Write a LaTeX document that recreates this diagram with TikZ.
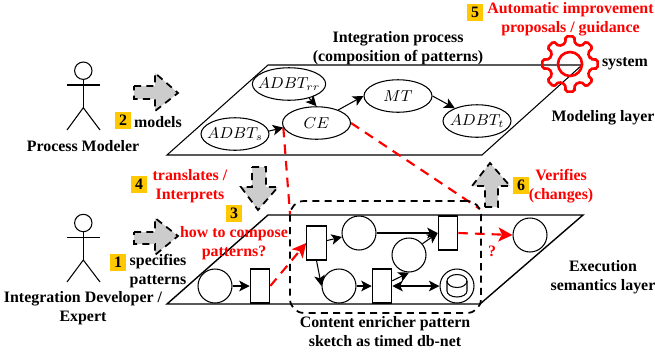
\documentclass[tikz,border=0pt]{standalone}
\usepackage{fontspec}
\setmainfont{Liberation Serif}
\usetikzlibrary{arrows.meta}
\usetikzlibrary{shapes.geometric}
\pgfdeclarelayer{edgelayer}
\pgfdeclarelayer{nodelayer}
\pgfsetlayers{edgelayer,nodelayer,main}
\definecolor{badgeyellow}{RGB}{255,200,0}
\definecolor{arrowgrey}{RGB}{204,204,204}
\tikzstyle{none} = []
\tikzstyle{black text}=[inner sep=0, align=center, font=\fontsize{9.05}{10.8}\selectfont\bfseries]
\tikzstyle{red text}=[style=black text, text=red]
\tikzstyle{badge}=[style=black text, fill=badgeyellow, minimum width=0.32cm, minimum height=0.34cm]
\tikzstyle{adt}=[draw, ellipse, inner sep=-3pt, minimum width=1.36cm, minimum height=0.65cm, line width=0.6pt, font=\fontsize{9}{10}\selectfont]
\tikzstyle{place}=[draw, circle, inner sep=0, minimum size=0.68cm, line width=0.6pt]
\tikzstyle{transition}=[draw, rectangle, inner sep=0, minimum width=0.39cm, minimum height=0.68cm, line width=0.6pt]
\tikzstyle{sketch box}=[draw, rectangle, rounded corners=8pt, dashed, dash pattern=on 4pt off 3pt, line width=1pt, minimum width=3.82cm, minimum height=2.24cm]
\tikzstyle{plain edge}=[line width=0.6pt]
\tikzstyle{flow edge}=[line width=0.6pt, -{Stealth[length=6pt,width=6pt,inset=1.5pt]}]
\tikzstyle{both edge}=[line width=0.6pt, {Stealth[length=6pt,width=6pt,inset=1.5pt]}-{Stealth[length=6pt,width=6pt,inset=1.5pt]}]
\tikzstyle{red edge}=[red, line width=1.2pt, dash pattern=on 5.5pt off 4pt]
\tikzstyle{red flow}=[style=red edge, -{Stealth[length=8pt,width=8pt,inset=2pt]}]
\tikzstyle{block arrow}=[draw, fill=arrowgrey, line width=1pt, dash pattern=on 4pt off 3pt]
\tikzstyle{gear edge}=[red, line width=1.5pt, rounded corners=1pt]

\begin{document}
\begin{tikzpicture}[x=0.02cm, y=-0.02cm]
	\useasboundingbox (0, 0) rectangle (655, 356);
	\begin{pgfonlayer}{nodelayer}
		\node [style=adt] (0) at (289, 84) {$ADBT_{rr}$};
		\node [style=adt] (1) at (235, 134) {$ADBT_s$};
		\node [style=adt] (2) at (316.5, 123) {$CE$};
		\node [style=adt] (3) at (398, 96) {$MT$};
		\node [style=adt] (4) at (477, 121) {$ADBT_t$};
		\node [style=place] (5) at (215, 286) {};
		\node [style=transition] (6) at (260, 286) {};
		\node [style=transition] (7) at (316.5, 243) {};
		\node [style=place] (8) at (359, 233) {};
		\node [style=transition] (9) at (448, 233) {};
		\node [style=place] (10) at (409, 255) {};
		\node [style=place] (11) at (339, 286) {};
		\node [style=transition] (12) at (382, 286) {};
		\node [style=place] (13) at (457, 286) {};
		\node [style=place] (15) at (530, 235) {};
		\node [style=sketch box] (16) at (385.5, 257) {};
		\coordinate (17) at (290, 214);
		\coordinate (18) at (480, 209);
		\node [style=black text] (19) at (83, 146) {Process Modeler};
		\node [style=black text] (20) at (83, 308) {Integration Developer /\\Expert};
		\node [style=badge] (21) at (123, 120) {2};
		\node [style=black text] (22) at (158, 122) {models};
		\node [style=badge] (23) at (118, 262.5) {1};
		\node [style=black text] (24) at (158, 271) {specifies\\patterns};
		\node [style=badge] (25) at (139, 184) {4};
		\node [style=red text] (26) at (190, 186) {translates /\\Interprets};
		\node [style=badge] (27) at (234, 213) {3};
		\node [style=red text] (28) at (234, 243) {how to compose\\patterns?};
		\node [style=badge] (29) at (475, 12.5) {5};
		\node [style=red text] (30) at (570.5, 19) {Automatic improvement\\proposals / guidance};
		\node [style=black text] (31) at (625, 64) {system};
		\node [style=black text] (32) at (398, 48) {Integration process\\(composition of patterns)};
		\node [style=black text] (33) at (603, 118) {Modeling layer};
		\node [style=black text] (34) at (603, 277) {Execution\\semantics layer};
		\node [style=badge] (35) at (521, 185) {6};
		\node [style=red text] (36) at (561, 186) {Verifies\\(changes)};
		\node [style=black text] (37) at (385, 332) {Content enricher pattern\\sketch as timed db-net};
		\node [style=red text] (38) at (492, 251) {?};
	\end{pgfonlayer}
	\begin{pgfonlayer}{edgelayer}
		\draw [style=plain edge] (268, 65) -- (582, 65) -- (482, 155) -- (167, 155) -- cycle;
		\draw [style=plain edge, line width=0.8pt] (268, 215) -- (583, 215) -- (480, 304) -- (167, 304) -- cycle;
		\draw [style=flow edge] (0.-35) to (2.north);
		\draw [style=flow edge] (1.5) to (2.188);
		\draw [style=flow edge] (2.31) to (3.west);
		\draw [style=flow edge] (3.east) to (4.150);
		\draw [style=flow edge] (5) to (6);
		\draw [style=flow edge] (7) to (8);
		\draw [style=flow edge] (7.south) to (11.west);
		\draw [style=flow edge] (8) to (9);
		\draw [style=flow edge] (10.40) to (9.west);
		\draw [style=flow edge] (11) to (12);
		\draw [style=flow edge] (12.27) to (10.south);
		\draw [style=both edge] (12.east) to (13.west);
		\draw [style=red edge] (2.188) to (17);
		\draw [style=red edge] (2.east) to (18);
		\draw [style=red flow] (6.east) to (7.west);
		\draw [style=red flow] (9.east) to (15.west);
		\draw [style=block arrow] (134, 86) -- (155, 86) -- (155, 73) -- (178, 93) -- (155, 111) -- (155, 99) -- (134, 99) -- cycle;
		\draw [style=block arrow] (134, 232) -- (155, 232) -- (155, 218) -- (178, 236) -- (155, 255) -- (155, 244) -- (134, 244) -- cycle;
		\draw [style=block arrow] (252, 167) -- (266, 167) -- (266, 187) -- (278, 187) -- (258, 210) -- (241, 187) -- (252, 187) -- cycle;
		\draw [style=block arrow] (485, 207) -- (498, 207) -- (498, 186) -- (510, 186) -- (490, 163) -- (472, 186) -- (485, 186) -- cycle;
	\end{pgfonlayer}
	\draw [style=plain edge] (83.3, 70.7) circle (8.7);
	\draw [style=plain edge] (67, 85) -- (100, 85);
	\draw [style=plain edge] (83.3, 79.4) -- (83.3, 107.7);
	\draw [style=plain edge] (67, 130) -- (83.3, 107.7) -- (100, 130);
	\draw [style=plain edge] (83.3, 223) circle (8.7);
	\draw [style=plain edge] (67, 237.3) -- (100, 237.3);
	\draw [style=plain edge] (83.3, 231.7) -- (83.3, 260);
	\draw [style=plain edge] (67, 282) -- (83.3, 260) -- (100, 282);
	\draw [style=plain edge] (457, 281) circle [x radius=10, y radius=6.5];
	\draw [style=plain edge] (447, 281) -- (447, 291) arc (180:0:10 and 6) -- (467, 281);
	\begin{scope}[shift={(570, 64)}]
		\draw [style=gear edge] (-13:21) \foreach \a in {0, 45, ..., 315} { -- (\a-13:21) -- (\a-9:28) -- (\a+9:28) -- (\a+13:21) } -- cycle;
		\draw [red, line width=1.5pt] (0, 0) circle (12);
	\end{scope}
\end{tikzpicture}
\end{document}
